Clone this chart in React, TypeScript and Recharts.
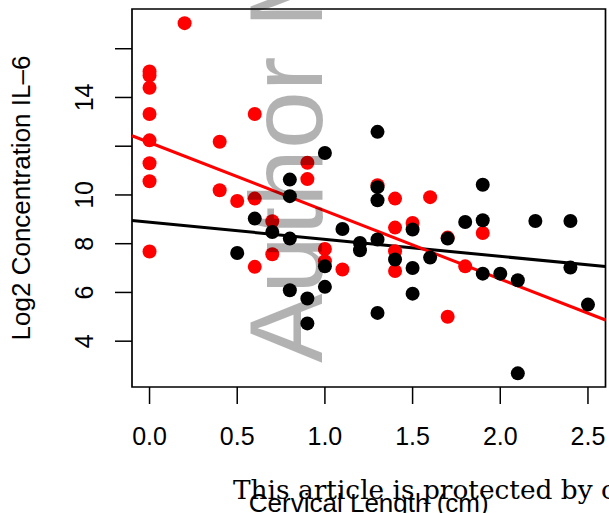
import React from 'react';
import {
  ScatterChart,
  Scatter,
  XAxis,
  YAxis,
  ReferenceArea,
  ReferenceLine,
} from 'recharts';

// group B (black) — cervical length vs log2 IL-6
const blackX = [
  0.5, 0.6, 0.7, 0.8, 0.8, 0.8, 0.8, 0.9, 0.9, 1.0, 1.0, 1.0, 1.1, 1.2, 1.2, 1.3, 1.3, 1.3, 1.3,
  1.3, 1.4, 1.5, 1.5, 1.5, 1.6, 1.7, 1.8, 1.9, 1.9, 1.9, 2.0, 2.1, 2.1, 2.2, 2.4, 2.4, 2.5,
];
const blackY = [
  7.62, 9.03, 8.48, 10.63, 9.95, 8.21, 6.09, 5.75, 4.73, 11.72, 7.07, 6.23, 8.6, 8.03, 7.73, 12.59,
  10.32, 9.78, 8.17, 5.16, 7.35, 8.58, 7.0, 5.95, 7.43, 8.21, 8.89, 10.42, 8.96, 6.77, 6.77, 6.5,
  2.68, 8.93, 8.93, 7.02, 5.5,
];

// group A (red)
const redX = [
  0.0, 0.0, 0.0, 0.0, 0.0, 0.0, 0.0, 0.0, 0.2, 0.4, 0.4, 0.5, 0.6, 0.6, 0.6, 0.7, 0.7, 0.9, 0.9,
  1.0, 1.0, 1.1, 1.3, 1.4, 1.4, 1.4, 1.4, 1.5, 1.6, 1.7, 1.7, 1.8, 1.9,
];
const redY = [
  15.07, 14.9, 14.4, 13.32, 12.24, 11.3, 10.56, 7.68, 17.05, 12.18, 10.19, 9.75, 13.32, 9.85, 7.05,
  8.92, 7.57, 11.32, 10.65, 7.78, 7.28, 6.94, 10.4, 9.85, 8.66, 7.69, 6.88, 8.85, 9.91, 8.25, 5.0,
  7.07, 8.44,
];

// fitted lines: [intercept, slope]
const blackFit = [8.88, -0.7];
const redFit = [12.15, -2.8];

const xTicks = [0, 0.5, 1.0, 1.5, 2.0, 2.5];
const yTicks = [4, 6, 8, 10, 12, 14, 16];
const yLabelled = [4, 6, 8, 10, 14];

const X_DOMAIN: [number, number] = [-0.1, 2.6];
const Y_DOMAIN: [number, number] = [2.12, 17.63];

const W = 609;
const H = 513;
const MARGIN = { top: 9, right: 3.5, bottom: 0, left: 0 };
const Y_AXIS_W = 132;
const X_AXIS_H = 126;
const PLOT_LEFT = MARGIN.left + Y_AXIS_W;
const PLOT_RIGHT = W - MARGIN.right;
const PLOT_TOP = MARGIN.top;
const PLOT_BOTTOM = H - MARGIN.bottom - X_AXIS_H;

const SANS = '"Liberation Sans", Arial, Helvetica, sans-serif';

const toPoints = (xs: number[], ys: number[]) => xs.map((x, i) => ({ x, y: ys[i] }));
const blackData = toPoints(blackX, blackY);
const redData = toPoints(redX, redY);

const fitSegment = ([b, m]: number[]) => [
  { x: X_DOMAIN[0], y: b + m * X_DOMAIN[0] },
  { x: X_DOMAIN[1], y: b + m * X_DOMAIN[1] },
];

const dot = (fill: string) => (props: any) =>
  <circle cx={props.cx} cy={props.cy} r={7} fill={fill} />;

const XTick = (props: any) => {
  const { x, y, payload } = props;
  return (
    <g>
      <line x1={x} x2={x} y1={y} y2={y + 17} stroke="#000" strokeWidth={1.5} />
      <text x={x} y={y + 58} textAnchor="middle" fontFamily={SANS} fontSize={25} fill="#000">
        {Number(payload.value).toFixed(1)}
      </text>
    </g>
  );
};

const YTick = (props: any) => {
  const { x, y, payload } = props;
  const tx = x - 39;
  return (
    <g>
      <line x1={x - 17} x2={x} y1={y} y2={y} stroke="#000" strokeWidth={1.5} />
      {yLabelled.includes(payload.value) && (
        <text x={tx} y={y} transform={`rotate(-90, ${tx}, ${y})`} textAnchor="middle"
          fontFamily={SANS} fontSize={25} fill="#000">
          {payload.value}
        </text>
      )}
    </g>
  );
};

export default function App() {
  const midY = (PLOT_TOP + PLOT_BOTTOM) / 2;
  const midX = (PLOT_LEFT + PLOT_RIGHT) / 2;
  return (
    <div style={{ position: 'absolute', left: 0, top: 0, width: W, height: H, background: '#fff' }}>
      <ScatterChart width={W} height={H} margin={MARGIN}>
        <XAxis type="number" dataKey="x" domain={X_DOMAIN} ticks={xTicks} interval={0}
          allowDataOverflow height={X_AXIS_H} axisLine={false} tickLine={false}
          tickSize={0} tickMargin={0} tick={<XTick />} />
        <YAxis type="number" dataKey="y" domain={Y_DOMAIN} ticks={yTicks} interval={0}
          allowDataOverflow width={Y_AXIS_W} axisLine={false} tickLine={false}
          tickSize={0} tickMargin={0} tick={<YTick />} />
        <ReferenceArea x1={X_DOMAIN[0]} x2={X_DOMAIN[1]} y1={Y_DOMAIN[0]} y2={Y_DOMAIN[1]}
          fill="none" stroke="#000" strokeWidth={1.7} fillOpacity={0} />
        <Scatter data={redData} shape={dot('#ff0000')} isAnimationActive={false} />
        <Scatter data={blackData} shape={dot('#000000')} isAnimationActive={false} />
        <ReferenceLine segment={fitSegment(blackFit)} stroke="#000" strokeWidth={3} />
        <ReferenceLine segment={fitSegment(redFit)} stroke="#ff0000" strokeWidth={3} />
      </ScatterChart>
      <svg width={W} height={H} style={{ position: 'absolute', left: 0, top: 0, pointerEvents: 'none' }}>
        <text x={30} y={midY} transform={`rotate(-90, 30, ${midY})`} textAnchor="middle"
          fontFamily={SANS} fontSize={26} fill="#000">
          Log2 Concentration IL–6
        </text>
        <text x={midX} y={512} textAnchor="middle" fontFamily={SANS} fontSize={26} fill="#000">
          Cervical Length (cm)
        </text>
        <text x={233} y={499} fontFamily='"DejaVu Serif", serif' fontSize={26.4} fill="#000">
          This article is protected by copyright. All rights reserved
        </text>
        <text x={322} y={363} transform="rotate(-90, 322, 363)" fontFamily={SANS} fontSize={104}
          fill="#000" fillOpacity={0.3}>
          Author Manuscript
        </text>
      </svg>
    </div>
  );
}
